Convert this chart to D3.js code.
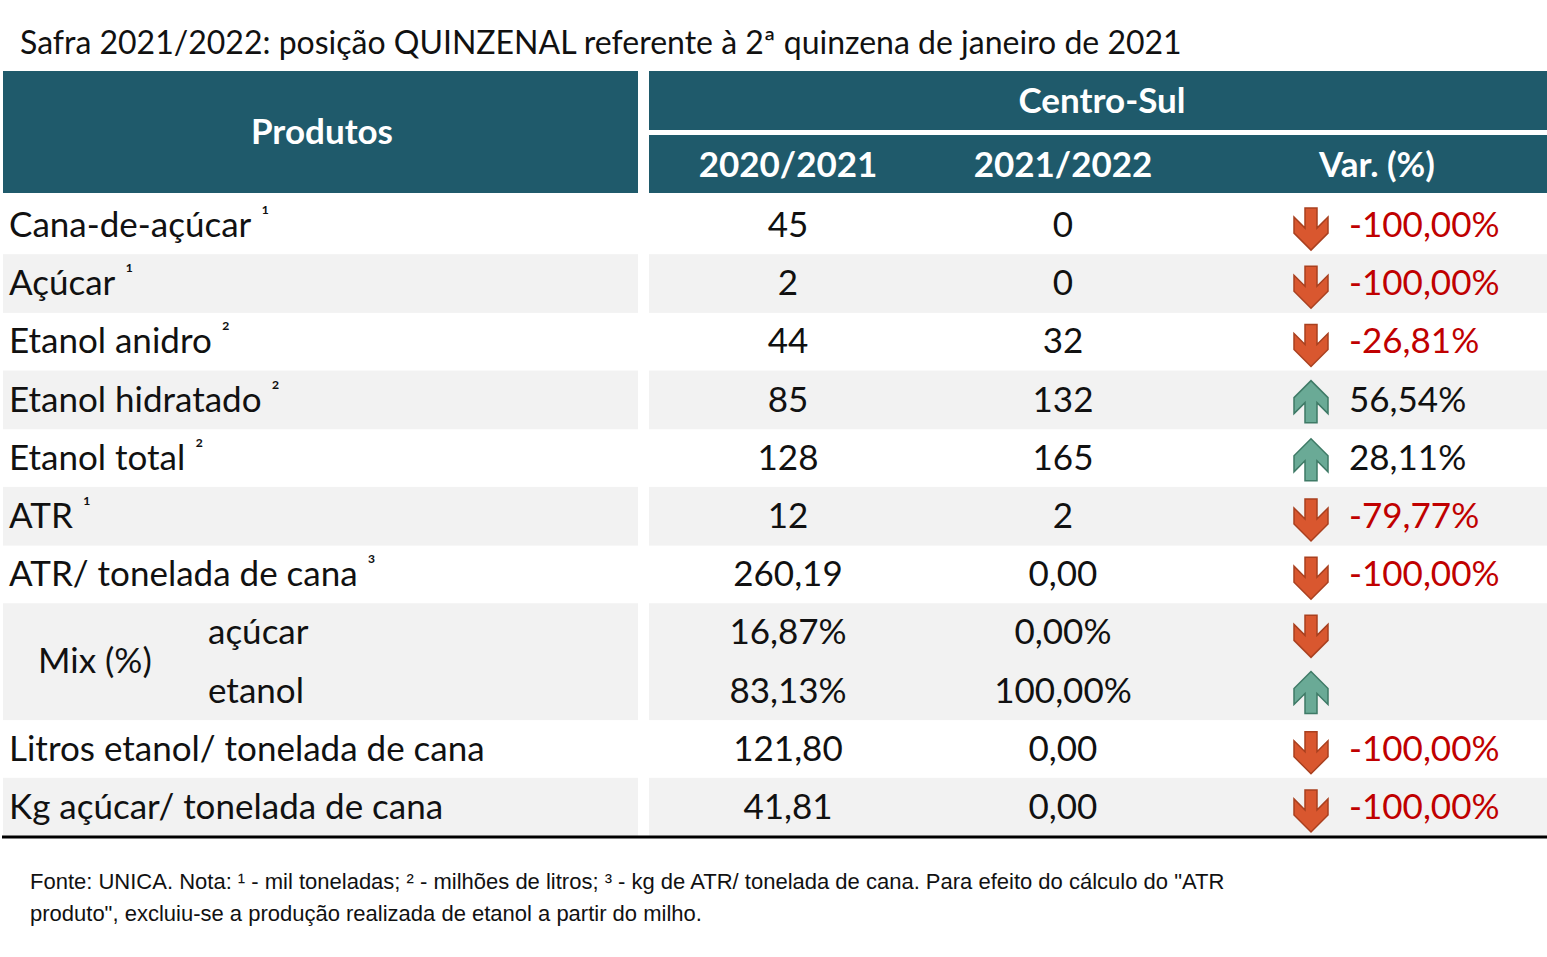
<!DOCTYPE html>
<html><head><meta charset="utf-8">
<script src="https://cdn.jsdelivr.net/npm/d3@7"></script>
<style>body{margin:0;background:#fff}</style></head>
<body><svg id="c" width="1547" height="957"></svg>
<script>
const products = ["Cana-de-açúcar","Açúcar","Etanol anidro","Etanol hidratado","Etanol total","ATR","ATR/ tonelada de cana","açúcar","etanol","Litros etanol/ tonelada de cana","Kg açúcar/ tonelada de cana"];
const notes = ["¹","¹","²","²","²","¹","³","","","",""];
const v2020 = ["45","2","44","85","128","12","260,19","16,87%","83,13%","121,80","41,81"];
const v2021 = ["0","0","32","132","165","2","0,00","0,00%","100,00%","0,00","0,00"];
const varPct = ["-100,00%","-100,00%","-26,81%","56,54%","28,11%","-79,77%","-100,00%","","","-100,00%","-100,00%"];
const direction = ["down","down","down","up","up","down","down","down","up","down","down"];
const columns = ["2020/2021","2021/2022","Var. (%)"];

const svg = d3.select("#c");
const F = "Lato, 'Open Sans', sans-serif";
const HC = "#1F5A6B";
svg.append("text").attr("x",20).attr("y",54).attr("font-family",F).attr("font-size",32).attr("fill","#111")
  .text("Safra 2021/2022: posição QUINZENAL referente à 2ª quinzena de janeiro de 2021");
// header
svg.append("rect").attr("x",3).attr("y",71).attr("width",635).attr("height",122).attr("fill",HC);
svg.append("rect").attr("x",649).attr("y",71).attr("width",898).attr("height",59).attr("fill",HC);
svg.append("rect").attr("x",649).attr("y",135).attr("width",898).attr("height",58).attr("fill",HC);
svg.append("text").attr("x",322).attr("y",144).attr("text-anchor","middle").attr("font-family",F).attr("font-weight","bold").attr("font-size",35).attr("fill","#fff").text("Produtos");
svg.append("text").attr("x",1102).attr("y",113).attr("text-anchor","middle").attr("font-family",F).attr("font-weight","bold").attr("font-size",35).attr("fill","#fff").text("Centro-Sul");
const colX = d3.scaleOrdinal().domain(columns).range([788,1063,1377]);
columns.forEach(c=>svg.append("text").attr("x",colX(c)).attr("y",177).attr("text-anchor","middle").attr("font-family",F).attr("font-weight","bold").attr("font-size",35).attr("fill","#fff").text(c));

const y = d3.scaleBand().domain(d3.range(products.length)).range([196,836]);
const bh = y.bandwidth();
const grayRows = [1,3,5,7,8,10];
grayRows.forEach(i=>{
  svg.append("rect").attr("x",3).attr("y",y(i)).attr("width",635).attr("height",bh+0.5).attr("fill","#F2F2F2");
  svg.append("rect").attr("x",649).attr("y",y(i)).attr("width",898).attr("height",bh+0.5).attr("fill","#F2F2F2");
});
const fs=35;
products.forEach((p,i)=>{
  const ty = y(i)+bh/2+12;
  if(i===7||i===8){
    svg.append("text").attr("x",208).attr("y",ty).attr("font-family",F).attr("font-size",fs).attr("fill","#111").text(p);
  } else {
    const t=svg.append("text").attr("x",9).attr("y",ty).attr("font-family",F).attr("font-size",fs).attr("fill","#111").text(p);
    if(notes[i]) t.append("tspan").attr("dx",10).attr("dy",-12).attr("font-size",24).text(notes[i]);
  }
  svg.append("text").attr("x",colX(columns[0])).attr("y",ty).attr("text-anchor","middle").attr("font-family",F).attr("font-size",fs).attr("fill","#111").text(v2020[i]);
  svg.append("text").attr("x",colX(columns[1])).attr("y",ty).attr("text-anchor","middle").attr("font-family",F).attr("font-size",fs).attr("fill","#111").text(v2021[i]);
  if(varPct[i]) svg.append("text").attr("x",1349).attr("y",ty).attr("font-family",F).attr("font-size",fs)
    .attr("fill",direction[i]==="down"?"#C00000":"#111").text(varPct[i]);
  // arrow
  const cx=1311, cy=y(i)+bh/2+3;
  const down = "M-6,-20 L6,-20 L6,0 L17,-11 L17,5 L0,22 L-17,5 L-17,-11 L-6,0 Z";
  svg.append("path").attr("d",down).attr("transform",`translate(${cx},${cy})`+(direction[i]==="up"?" scale(1,-1)":""))
    .attr("fill",direction[i]==="down"?"#D9572F":"#6AAA96").attr("stroke",direction[i]==="down"?"#A9401F":"#3E7A66").attr("stroke-width",1.5);
});
svg.append("text").attr("x",38).attr("y",(y(7)+y(8)+bh)/2+12).attr("font-family",F).attr("font-size",fs).attr("fill","#111").text("Mix (%)");
svg.append("line").attr("x1",2).attr("x2",1547).attr("y1",837).attr("y2",837).attr("stroke","#000").attr("stroke-width",3);
const AF="'Liberation Sans', Arial, sans-serif";
svg.append("text").attr("x",30).attr("y",889).attr("font-family",AF).attr("font-size",22).attr("fill","#111")
  .text("Fonte: UNICA. Nota: ¹ - mil toneladas; ² - milhões de litros; ³ - kg de ATR/ tonelada de cana. Para efeito do cálculo do \"ATR");
svg.append("text").attr("x",30).attr("y",921).attr("font-family",AF).attr("font-size",22).attr("fill","#111")
  .text("produto\", excluiu-se a produção realizada de etanol a partir do milho.");
</script></body></html>
